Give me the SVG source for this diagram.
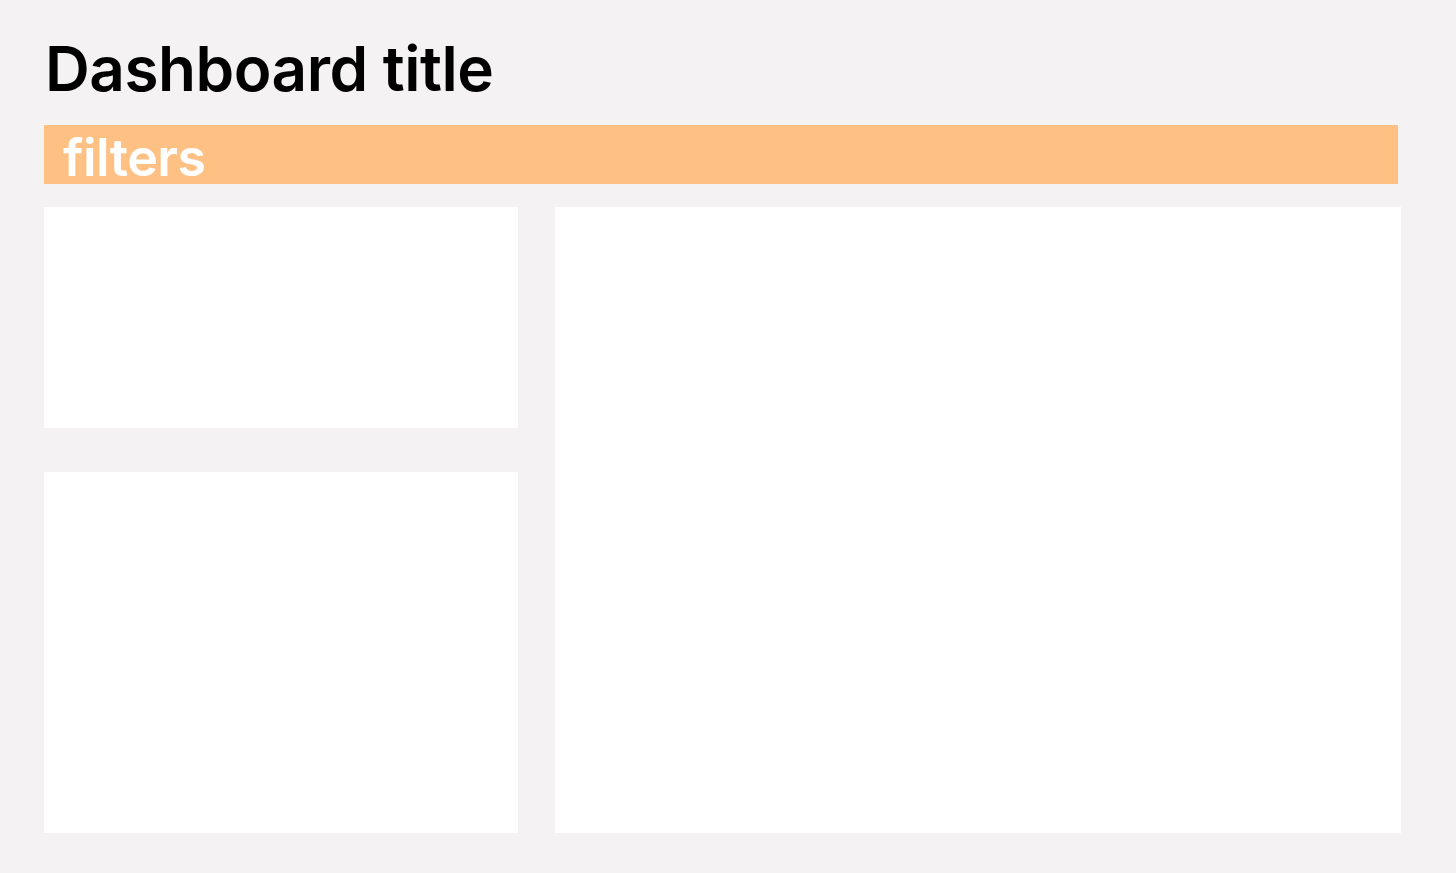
<svg xmlns="http://www.w3.org/2000/svg" width="1456" height="873" viewBox="0 0 1456 873">
<style>
.panel{fill:#ffffff}
.title{font-family:Inter,"Liberation Sans",sans-serif;font-weight:600;fill:#000000}
.flt{font-family:Inter,"Liberation Sans",sans-serif;font-weight:600;fill:#ffffff}
</style>
<rect x="0" y="0" width="1456" height="873" fill="#f4f2f3"/>
<g id="title"><text class="title" x="45" y="91" font-size="62" letter-spacing="-1" textLength="448" lengthAdjust="spacing">Dashboard title</text></g>
<g id="filters"><rect x="44" y="125" width="1354" height="59" fill="#ffc084"/><text class="flt" x="63" y="176" font-size="52" textLength="143" lengthAdjust="spacing">filters</text></g>
<g id="panel-top-left"><rect class="panel" x="44" y="207" width="474" height="221"/></g>
<g id="panel-bottom-left"><rect class="panel" x="44" y="472" width="474" height="361"/></g>
<g id="panel-right"><rect class="panel" x="555" y="207" width="846" height="626"/></g>
<g id="connectors"/>
</svg>
